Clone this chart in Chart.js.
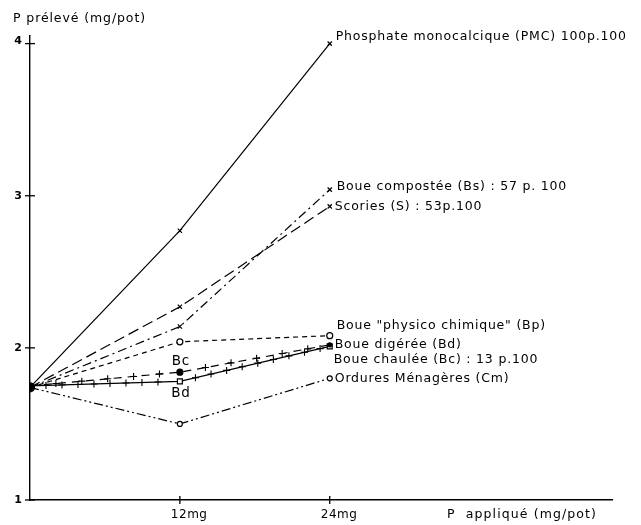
<!DOCTYPE html>
<html><head><meta charset="utf-8">
<script src="https://cdn.jsdelivr.net/npm/chart.js@4"></script>
<style>html,body{margin:0;padding:0;background:#fff}</style>
</head><body>
<canvas id="c" width="641" height="525"></canvas>
<script>
// ---- data ----
const doses = [0, 12, 24];
const xTickValues = [12, 24];
const xTickLabels = ['12mg', '24mg'];
const yTickValues = [1, 2, 3, 4];
const pmc     = [1.74, 2.77, 4.00];
const scories = [1.74, 2.27, 2.93];
const bs      = [1.74, 2.14, 3.04];
const bp      = [1.74, 2.04, 2.08];
const bc      = [1.75, 1.84, 2.02];
const bd      = [1.75, 1.78, 2.01];
const cm      = [1.74, 1.50, 1.80];
const seriesNames = [
  'Phosphate monocalcique (PMC) 100p.100',
  'Scories (S) : 53p.100',
  'Boue compostée (Bs) : 57 p. 100',
  'Boue "physico chimique" (Bp)',
  'Boue chaulée (Bc) : 13 p.100',
  'Boue digérée (Bd)',
  'Ordures Ménagères (Cm)'
];
const yTitle = 'P prélevé (mg/pot)';
const xTitle = 'P  appliqué (mg/pot)';

const FONT = '"DejaVu Sans", sans-serif';
const pts = arr => doses.map((x, i) => ({x: x, y: arr[i]}));

function ds(name, arr, style) {
  return Object.assign({
    label: name, data: pts(arr), borderColor: '#000', backgroundColor: '#000',
    borderWidth: 1.2, pointBorderColor: '#000', pointBackgroundColor: '#fff',
    pointBorderWidth: 1.2, tension: 0
  }, style);
}

const datasets = [
  ds(seriesNames[0], pmc, {borderDash: [], pointStyle: ['circle','crossRot','crossRot'], pointRadius: [4.5,3,3], pointBackgroundColor:'#000', lab:{dx:6,dy:-7}}),
  ds(seriesNames[1], scories, {borderDash: [11,5], pointStyle: ['circle','crossRot','crossRot'], pointRadius: [0,3,3], lab:{dx:5,dy:0}}),
  ds(seriesNames[2], bs, {borderDash: [9,4,2,4], pointStyle: ['circle','crossRot','crossRot'], pointRadius: [0,3,3], lab:{dx:7,dy:-3}}),
  ds(seriesNames[3], bp, {borderDash: [5,4], pointStyle: ['circle','circle','circle'], pointRadius: [0,3,3], lab:{dx:7,dy:-10}}),
  ds(seriesNames[4], bc, {borderDash: [8,6], pointStyle: ['circle','circle','circle'], pointRadius: [0,3,2], pointBackgroundColor:'#000', plus:26, lab:{dx:4,dy:15}}),
  ds(seriesNames[5], bd, {borderDash: [], pointStyle: ['circle','rect','rect'], pointRadius: [0,3.5,3.5], plus:16, lab:{dx:5,dy:-2}}),
  ds(seriesNames[6], cm, {borderDash: [9,3,2,3,2,3], pointStyle: ['circle','circle','circle'], pointRadius: [0,2.5,2.5], lab:{dx:5,dy:0}})
];

const decor = {
  id: 'decor',
  afterDatasetsDraw(chart) {
    const ctx = chart.ctx;
    const xs = chart.scales.x, ys = chart.scales.y;
    ctx.save();
    ctx.strokeStyle = '#000'; ctx.fillStyle = '#000'; ctx.lineWidth = 1.1;
    // plus-pattern lines
    chart.data.datasets.forEach((d, i) => {
      if (!d.plus) return;
      const m = chart.getDatasetMeta(i).data;
      for (let k = 0; k < m.length - 1; k++) {
        const a = m[k], b = m[k+1];
        const L = Math.hypot(b.x - a.x, b.y - a.y);
        for (let s = d.plus; s < L - 6; s += d.plus) {
          const px = a.x + (b.x - a.x) * s / L, py = a.y + (b.y - a.y) * s / L;
          ctx.beginPath();
          ctx.moveTo(px - 3.5, py); ctx.lineTo(px + 3.5, py);
          ctx.moveTo(px, py - 3.5); ctx.lineTo(px, py + 3.5);
          ctx.stroke();
        }
      }
    });
    // end labels
    ctx.font = '12.5px ' + FONT;
    ctx.letterSpacing = '0.8px';
    ctx.textBaseline = 'middle'; ctx.textAlign = 'left';
    chart.data.datasets.forEach((d, i) => {
      const m = chart.getDatasetMeta(i).data;
      const p = m[m.length - 1];
      ctx.fillText(d.label, p.x + d.lab.dx, p.y + d.lab.dy);
    });
    // Bc / Bd marker text
    ctx.font = '13.5px ' + FONT; ctx.textAlign = 'center';
    const pbc = chart.getDatasetMeta(4).data[1], pbd = chart.getDatasetMeta(5).data[1];
    ctx.fillText('Bc', pbc.x + 1, pbc.y - 11);
    ctx.fillText('Bd', pbd.x + 1, pbd.y + 12);
    // tick crosses
    ctx.letterSpacing = '0px';
    ctx.lineWidth = 1.3;
    yTickValues.forEach(v => {
      const y = ys.getPixelForValue(v);
      ctx.beginPath(); ctx.moveTo(xs.left - 5, y); ctx.lineTo(xs.left + 5, y); ctx.stroke();
    });
    ctx.beginPath(); ctx.moveTo(xs.left, ys.getPixelForValue(4) - 8); ctx.lineTo(xs.left, ys.top); ctx.stroke();
    xTickValues.forEach(v => {
      const x = xs.getPixelForValue(v);
      ctx.beginPath(); ctx.moveTo(x, ys.bottom - 4); ctx.lineTo(x, ys.bottom + 4); ctx.stroke();
    });
    // tick labels
    ctx.font = 'bold 11px ' + FONT; ctx.textAlign = 'right';
    yTickValues.forEach(v => ctx.fillText(String(v), xs.left - 8, ys.getPixelForValue(v) + (v===4?-2:0)));
    ctx.font = '12px ' + FONT; ctx.textAlign = 'left'; ctx.letterSpacing = '0.5px';
    xTickValues.forEach((v, i) => ctx.fillText(xTickLabels[i], xs.getPixelForValue(v) - 9, ys.bottom + 15));
    // titles
    ctx.font = '12.5px ' + FONT;
    ctx.letterSpacing = '0.9px';
    ctx.fillText(yTitle, 13, 19);
    ctx.letterSpacing = '1.1px';
    ctx.fillText(xTitle, 447, ys.bottom + 15);
    ctx.restore();
  }
};

new Chart(document.getElementById('c'), {
  type: 'line',
  data: { datasets: datasets },
  options: {
    responsive: false, animation: false,
    layout: { padding: { top: 36, right: 29, left: 0, bottom: 0 } },
    plugins: { legend: { display: false }, tooltip: { enabled: false } },
    scales: {
      x: {
        type: 'linear', min: 0, max: 46.6,
        afterBuildTicks: s => { s.ticks = xTickValues.map(v => ({value: v})); },
        afterFit: s => { s.height = 25; },
        ticks: { display: false },
        grid: { display: false },
        border: { color: '#000', width: 1.4 }
      },
      y: {
        type: 'linear', min: 1, max: 4.05,
        afterBuildTicks: s => { s.ticks = yTickValues.map(v => ({value: v})); },
        afterFit: s => { s.width = 30; },
        ticks: { display: false },
        grid: { display: false },
        border: { color: '#000', width: 1.4 }
      }
    }
  },
  plugins: [decor]
});
</script>
</body></html>
